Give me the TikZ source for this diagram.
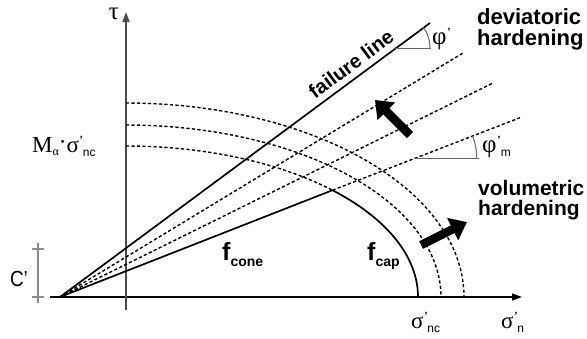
\documentclass[tikz,border=0pt]{standalone}
\usepackage{fontspec}
\setmainfont{Liberation Serif}
\setsansfont{Liberation Sans}
\usetikzlibrary{arrows.meta}
\tikzset{
  axisline/.style={line width=1.5pt, -{Triangle[length=10pt,width=7pt]}},
  yaxisline/.style={line width=1.5pt, black!70, -{Triangle[length=10pt,width=7pt]}},
  solidline/.style={line width=1.7pt, black},
  dashline/.style={line width=1.4pt, dash pattern=on 3.2pt off 2.3pt},
  anglestyle/.style={line width=1pt, black!60},
  dimline/.style={line width=1.2pt, black!45},
  bigarrow/.style={line width=8.5pt, -{Triangle[length=16pt,width=24pt]}},
  boldlabel/.style={font=\fontsize{22}{22}\selectfont\sffamily\bfseries, inner sep=0pt, align=left},
  serlabel/.style={inner sep=0pt, font=\fontsize{23}{23}\selectfont},
}
\newcommand{\subsans}[1]{\raisebox{-4pt}{\fontsize{12}{12}\selectfont\sffamily #1}}
\newcommand{\prm}{\makebox[0pt][l]{\raisebox{7pt}{\fontsize{14}{14}\selectfont ’}}}
\begin{document}
\begin{tikzpicture}[x=1pt,y=-1pt]
\useasboundingbox (0,0) rectangle (587,338);
% key points
\coordinate (O) at (60,297);
\coordinate (ybot) at (126,310);
\coordinate (ytop) at (126,12);
\coordinate (xl) at (50,297);
\coordinate (xr) at (522,297);
\coordinate (F) at (430,23);
\coordinate (C) at (332.5,190.2);
\coordinate (D1) at (463,53);
\coordinate (D2) at (493,83);
\coordinate (D3) at (520,117.7);
% axes
\draw[axisline] (xl) -- (xr);
\draw[yaxisline] (ybot) -- (ytop);
% dashed ellipses (centre on the tau axis)
\draw[dashline] plot[domain=90:0, samples=60] ({126+338*cos(\x)},{297-194*sin(\x)});
\draw[dashline] plot[domain=90:0, samples=60] ({126+315*cos(\x)},{297-172*sin(\x)});
\draw[dashline] plot[domain=90:45, samples=40] ({126+292*cos(\x)},{297-151*sin(\x)});
% cap
\draw[solidline] plot[domain=45:0, samples=40] ({126+292*cos(\x)},{297-151*sin(\x)});
% dashed lines
\draw[dashline] (O) -- (D1);
\draw[dashline] (O) -- (D2);
\draw[dashline] (C) -- (D3);
% failure line and cone
\draw[solidline] (O) -- (F);
\draw[solidline] (O) -- (C);
% angle phi'
\coordinate (pc) at (395,48);
\coordinate (pe) at (431,48);
\draw[anglestyle] (pc) -- (pe);
\draw[anglestyle] plot[domain=0:36.6, samples=20] ({395+35*cos(\x)},{48-35*sin(\x)});
% angle phi'_m
\coordinate (mc) at (414,158);
\coordinate (me) at (479,158);
\draw[anglestyle] (mc) -- (me);
\draw[anglestyle] plot[domain=0:21.3, samples=20] ({416.7+60*cos(\x)},{158-60*sin(\x)});
% c' dimension
\coordinate (dt) at (38,243);
\coordinate (db) at (38,303);
\coordinate (t1l) at (32,249);
\coordinate (t1r) at (44,249);
\coordinate (t2l) at (32,297);
\coordinate (t2r) at (44,297);
\draw[dimline] (dt) -- (db);
\draw[dimline] (t1l) -- (t1r);
\draw[dimline] (t2l) -- (t2r);
% hardening arrows
\coordinate (a1s) at (410,135);
\coordinate (a1e) at (375,100);
\coordinate (a2s) at (421,245);
\coordinate (a2e) at (467,222);
\draw[bigarrow] (a1s) -- (a1e);
\draw[bigarrow] (a2s) -- (a2e);
% labels
\node[serlabel, font=\fontsize{25}{25}\selectfont] (tau) at (114,14) {τ};
\node[serlabel, anchor=base west] (mlab) at (32,152) {M\raisebox{-3pt}{\fontsize{12}{12}\selectfont α}\raisebox{3pt}{·}σ\prm\,\subsans{nc}};
\node[font=\fontsize{19}{19}\selectfont\sffamily, inner sep=0pt, yscale=1.15] (clab) at (19,279) {C’};
\node[font=\fontsize{20}{20}\selectfont\sffamily\bfseries, inner sep=0pt, rotate=36.6] (flab) at (351,64) {failure line};
\node[boldlabel, anchor=base west] (dev) at (477,45) {deviatoric\\[-1pt]hardening};
\node[boldlabel, font=\fontsize{21}{21}\selectfont\sffamily\bfseries, anchor=base west] (vol) at (478,215) {volumetric\\[-1pt]hardening};
\node[inner sep=0pt, anchor=base west] (fcone) at (222,260) {\fontsize{25}{25}\selectfont\sffamily\bfseries f\raisebox{-6pt}{\fontsize{14}{14}\selectfont cone}};
\node[inner sep=0pt, anchor=base west] (fcap) at (367,260) {\fontsize{25}{25}\selectfont\sffamily\bfseries f\raisebox{-6pt}{\fontsize{14}{14}\selectfont cap}};
\node[serlabel, anchor=base west] (snc) at (411,328) {σ\prm\,\subsans{nc}};
\node[serlabel, anchor=base west] (sn) at (501,328) {σ\prm\,\subsans{n}};
\node[serlabel, font=\fontsize{25}{25}\selectfont, anchor=base west] (phi) at (432,44) {φ\prm};
\node[serlabel, font=\fontsize{25}{25}\selectfont, anchor=base west] (phim) at (482,152) {φ\prm\,\subsans{m}};
\end{tikzpicture}
\end{document}
